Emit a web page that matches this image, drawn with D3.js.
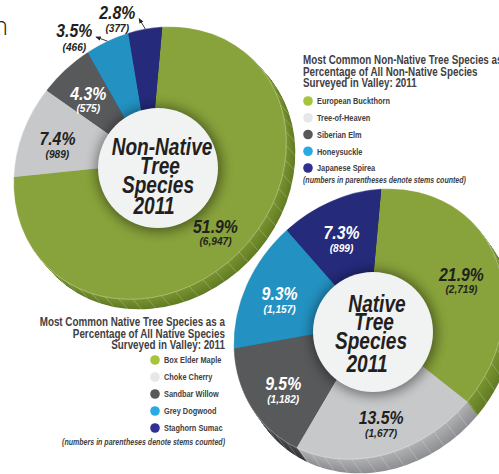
<!DOCTYPE html>
<html>
<head>
<meta charset="utf-8">
<script src="https://cdn.jsdelivr.net/npm/d3@7"></script>
<style>
  html, body { margin: 0; padding: 0; background: #fff; }
  svg { display: block; }
</style>
</head>
<body>
<svg id="chart" width="499" height="474"></svg>
<script>
// Most common non-native species: share of non-native stems (%) and stems counted
const nonNativeSpecies = ["European Buckthorn", "Tree-of-Heaven", "Siberian Elm", "Honeysuckle", "Japanese Spirea"];
const nonNativePercent = [51.9, 7.4, 4.3, 3.5, 2.8];
const nonNativeStems = [6947, 989, 575, 466, 377];

// Most common native species: share of native stems (%) and stems counted
const nativeSpecies = ["Box Elder Maple", "Choke Cherry", "Sandbar Willow", "Grey Dogwood", "Staghorn Sumac"];
const nativePercent = [21.9, 13.5, 9.5, 9.3, 7.3];
const nativeStems = [2719, 1677, 1182, 1157, 899];

const nonNativeTitle = ["Most Common Non-Native Tree Species as", "Percentage of All Non-Native Species", "Surveyed in Valley: 2011"];
const nativeTitle = ["Most Common Native Tree Species as a", "Percentage of All Native Species", "Surveyed in Valley: 2011"];
const stemsNote = "(numbers in parentheses denote stems counted)";

// Slice palette (same order in both pies)
const faceColors   = ["#88a33b", "#c7c8ca", "#58595b", "#2391c1", "#252a7b"];
const rimLight     = ["#7a9431", "#b0b1b3", "#48494b", "#1d7ca7", "#1e2367"];
const rimDark      = ["#627c24", "#8f9093", "#37383a", "#166184", "#171b50"];
const legendColors = ["#a6c43c", "#e6e7e8", "#58595b", "#29abe2", "#2e3192"];
const labelInk     = ["#231f20", "#231f20", "#ffffff", "#ffffff", "#ffffff"];

const sansFamily = "'Liberation Sans', Arimo, Arial, sans-serif";
const fmt = d3.format(",");
const deg = Math.PI / 180;

const svg = d3.select("#chart");
const defs = svg.append("defs");

defs.append("filter").attr("id", "discShadow")
  .attr("x", "-50%").attr("y", "-50%").attr("width", "200%").attr("height", "200%")
  .append("feGaussianBlur").attr("stdDeviation", 6);

const marker = defs.append("marker").attr("id", "arrowHead")
  .attr("viewBox", "0 0 10 10").attr("refX", 8).attr("refY", 5)
  .attr("markerWidth", 6).attr("markerHeight", 6).attr("orient", "auto");
marker.append("path").attr("d", "M0,1 L10,5 L0,9 Z").attr("fill", "#231f20");

// Condensed bold text: a sans face narrowed horizontally
function say(parent, x, y, str, o) {
  return parent.append("text")
    .attr("transform", `translate(${x},${y}) scale(${o.sx ?? 0.82},1)`)
    .attr("text-anchor", o.anchor || "start")
    .attr("font-family", o.family || sansFamily)
    .attr("font-weight", o.weight ?? 700)
    .attr("font-style", o.italic ? "italic" : "normal")
    .attr("font-size", o.size)
    .attr("fill", o.fill || "#414042")
    .text(str);
}

// Cut-off heading fragment at the top-left corner
say(svg, 8, 35, "n", {
  anchor: "end", size: 26, weight: 300, sx: 1,
  family: "'Open Sans','Noto Sans',sans-serif", fill: "#231f20"
});

// A tilted (elliptical) 3-D donut: extruded rim, coloured face, raised centre disc.
function drawPie(cfg) {
  const g = svg.append("g");
  const data = cfg.percent.map((p, i) => ({ pct: p, stems: cfg.stems[i], i }));
  const start = cfg.startDeg * deg;
  const arcs = d3.pie().sort(null).value(d => d.pct)
    .startAngle(start).endAngle(start + 2 * Math.PI)(data);
  const arc = d3.arc().innerRadius(0).outerRadius(1);
  const full = { startAngle: 0, endAngle: 2 * Math.PI };

  const frame = (ox, oy) =>
    `translate(${cfg.cx + ox},${cfg.cy + oy}) rotate(-45) scale(${cfg.a},${cfg.b})`;

  // local (angle, radius fraction) -> screen point
  const project = (phi, r) => {
    const lx = cfg.a * r * Math.sin(phi);
    const ly = -cfg.b * r * Math.cos(phi);
    const c = Math.SQRT1_2;
    return [cfg.cx + c * (lx + ly), cfg.cy + c * (-lx + ly)];
  };

  // white halo so overlapping pies stay separated
  if (cfg.halo > 0) {
    g.append("path")
      .attr("transform", frame(cfg.rim[0] / 2, cfg.rim[1] / 2))
      .attr("d", d3.arc().innerRadius(0).outerRadius(1 + cfg.halo)(full))
      .attr("fill", "#fff");
  }

  // rim: stacked copies of the face, darkening towards the bottom
  const steps = 16;
  for (let k = steps; k >= 1; k--) {
    const t = k / steps;
    g.append("g")
      .attr("transform", frame(cfg.rim[0] * t, cfg.rim[1] * t))
      .selectAll("path").data(arcs).join("path")
      .attr("d", arc)
      .attr("fill", d => d3.interpolateRgb(rimLight[d.data.i], rimDark[d.data.i])(t));
  }

  // facet lines across the rim
  const facets = d3.range(0, 360, 6).map(a => a * deg);
  g.append("g").selectAll("line").data(facets).join("line")
    .attr("x1", a => project(a, 1)[0])
    .attr("y1", a => project(a, 1)[1])
    .attr("x2", a => project(a, 1)[0] + cfg.rim[0])
    .attr("y2", a => project(a, 1)[1] + cfg.rim[1])
    .attr("stroke", "rgba(255,255,255,0.28)")
    .attr("stroke-width", 0.8);

  // top face
  g.append("g")
    .attr("transform", frame(0, 0))
    .selectAll("path").data(arcs).join("path")
    .attr("d", arc)
    .attr("fill", d => faceColors[d.data.i]);

  g.append("path")
    .attr("transform", frame(0, 0))
    .attr("d", arc(full))
    .attr("fill", "none")
    .attr("stroke", "rgba(255,255,255,0.45)")
    .attr("stroke-width", 0.7)
    .attr("vector-effect", "non-scaling-stroke");

  // centre disc with soft shadow
  g.append("circle")
    .attr("cx", cfg.disc[0] + 1).attr("cy", cfg.disc[1] + 1).attr("r", cfg.discR + 3)
    .attr("fill", "#000").attr("opacity", 0.42)
    .attr("filter", "url(#discShadow)");
  g.append("circle")
    .attr("cx", cfg.disc[0]).attr("cy", cfg.disc[1]).attr("r", cfg.discR)
    .attr("fill", "#f1f2f2");

  cfg.title.forEach((line, j) => {
    say(g, cfg.disc[0] + cfg.titleDx[j], cfg.titleY + cfg.titleSteps[j], line, {
      anchor: "middle", size: 23, sx: 0.83, italic: true, fill: "#231f20"
    });
  });

  // value labels: inside at the slice centroid, or outside with a leader arrow
  arcs.forEach(d => {
    const mid = (d.startAngle + d.endAngle) / 2;
    const lead = cfg.outside[d.data.i];
    let px, py0, py1, ink;
    if (!lead) {
      const [x, y] = project(mid, cfg.labelR);
      px = x; py0 = y + 5; py1 = y + 17.5; ink = labelInk[d.data.i];
    } else {
      const [ex, ey] = project(mid, 1.0);
      const tx = ex + lead[0], ty = ey + lead[1];
      g.append("line")
        .attr("x1", ex).attr("y1", ey).attr("x2", tx).attr("y2", ty)
        .attr("stroke", "#231f20").attr("stroke-width", 0.9)
        .attr("marker-end", "url(#arrowHead)");
      px = tx - 22; py0 = ty; py1 = ty + 13.5; ink = "#231f20";
    }
    say(g, px, py0, d.data.pct.toFixed(1) + "%", {
      anchor: "middle", size: 18, sx: 0.88, italic: true, fill: ink
    });
    say(g, px, py1, "(" + fmt(d.data.stems) + ")", {
      anchor: "middle", size: 11.5, sx: 0.88, italic: true, fill: ink
    });
  });
}

function drawLegend(cfg) {
  const g = svg.append("g");
  cfg.title.forEach((line, j) => {
    say(g, cfg.titleX, cfg.titleY + j * 11.7, line, { anchor: cfg.anchor, size: 12 });
  });
  cfg.names.forEach((name, i) => {
    const y = cfg.itemY + i * cfg.itemStep;
    g.append("circle").attr("cx", cfg.dotX).attr("cy", y).attr("r", 4.8).attr("fill", legendColors[i]);
    say(g, cfg.dotX + 9, y + 3.3, name, { size: 9 });
  });
  say(g, cfg.titleX, cfg.noteY, stemsNote, { anchor: cfg.anchor, size: 8.6, italic: true });
}

drawPie({
  percent: nonNativePercent, stems: nonNativeStems,
  cx: 150, cy: 163, a: 146, b: 126, startDeg: 46,
  rim: [9, 10], halo: 0,
  disc: [158, 168], discR: 60,
  title: ["Non-Native", "Tree", "Species", "2011"],
  titleDx: [4, 2, 0, -4],
  titleY: 155, titleSteps: [0, 19, 38, 59],
  labelR: 0.73, outside: { 3: [-11, -4], 4: [-6, -10] }
});
drawLegend({
  title: nonNativeTitle, names: nonNativeSpecies, anchor: "start",
  titleX: 303, titleY: 64, dotX: 308, itemY: 101, itemStep: 16.75, noteY: 183
});

drawPie({
  percent: nativePercent, stems: nativeStems,
  cx: 369, cy: 324, a: 145, b: 125, startDeg: 46,
  rim: [10, 14], halo: 0.03,
  disc: [373, 332], discR: 60,
  title: ["Native", "Tree", "Species", "2011"],
  titleDx: [4, 1, -2, -6],
  titleY: 312, titleSteps: [0, 18, 37, 60],
  labelR: 0.73, outside: {}
});
drawLegend({
  title: nativeTitle, names: nativeSpecies, anchor: "end",
  titleX: 225, titleY: 326, dotX: 155, itemY: 360, itemStep: 17, noteY: 445
});
</script>
</body>
</html>
